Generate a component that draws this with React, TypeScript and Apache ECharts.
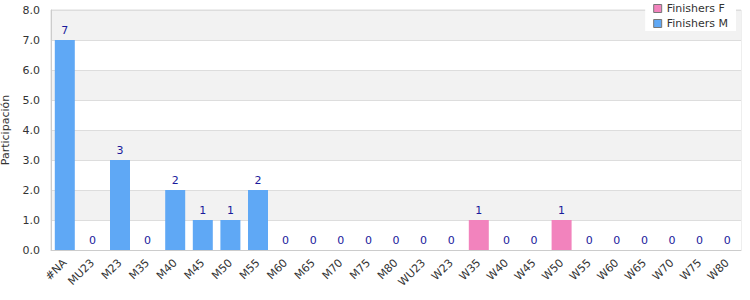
import React, { useEffect, useRef } from "react";
import * as echarts from "echarts";

const categories = ["#NA","MU23","M23","M35","M40","M45","M50","M55","M60","M65","M70","M75","M80","WU23","W23","W35","W40","W45","W50","W55","W60","W65","W70","W75","W80"];
const finishersF = [0,0,0,0,0,0,0,0,0,0,0,0,0,0,0,1,0,0,1,0,0,0,0,0,0];
const finishersM = [7,0,3,0,2,1,1,2,0,0,0,0,0,0,0,0,0,0,0,0,0,0,0,0,0];
const yTicks = { min: 0, max: 8, interval: 1 };

export default function App() {
  const ref = useRef<HTMLDivElement>(null);
  useEffect(() => {
    const chart = echarts.init(ref.current!, null, { renderer: "svg" });
    const font = "DejaVu Sans";
    chart.setOption({
      animation: false,
      textStyle: { fontFamily: font },
      grid: { left: 51, right: 9, top: 10, bottom: 50, containLabel: false, outerBoundsMode: "none", show: true, borderColor: "#dddddd", borderWidth: 1, backgroundColor: "transparent" },
      legend: {
        orient: "vertical",
        right: 14,
        top: 1,
        backgroundColor: "#ffffff",
        padding: [2, 8, 2, 8],
        itemGap: 4,
        itemWidth: 8,
        itemHeight: 8,
        icon: "rect",
        itemStyle: { borderColor: "#777777", borderWidth: 1 },
        textStyle: { fontFamily: font, fontSize: 11, color: "#333" },
        data: ["Finishers F", "Finishers M"],
      },
      xAxis: {
        type: "category",
        data: categories,
        axisLine: { lineStyle: { color: "#cccccc" } },
        axisTick: { show: false },
        axisLabel: { rotate: 45, interval: 0, margin: 11, fontSize: 11, color: "#333", fontFamily: font },
      },
      yAxis: {
        type: "value",
        min: yTicks.min,
        max: yTicks.max,
        interval: yTicks.interval,
        name: "Participación",
        nameLocation: "middle",
        nameGap: 40,
        nameTextStyle: { fontSize: 11, color: "#333", fontFamily: font },
        axisLine: { show: true, lineStyle: { color: "#cccccc" } },
        axisTick: { show: false },
        axisLabel: { margin: 11, fontSize: 11, color: "#333", fontFamily: font, formatter: (v: number) => v.toFixed(1) },
        splitLine: { lineStyle: { color: "#dddddd" } },
        splitArea: { show: true, areaStyle: { color: ["#ffffff", "#f2f2f2"] } },
      },
      series: [
        {
          name: "Finishers F",
          type: "bar",
          stack: "t",
          data: finishersF,
          barWidth: 20,
          itemStyle: { color: "#f283bd" },
        },
        {
          name: "Finishers M",
          type: "bar",
          stack: "t",
          data: finishersM,
          barWidth: 20,
          itemStyle: { color: "#5fa8f5" },
          label: {
            show: true,
            position: "top",
            distance: 4,
            color: "#1a1a9c",
            fontSize: 11,
            fontFamily: font,
            formatter: (p: any) => String(finishersF[p.dataIndex] + finishersM[p.dataIndex]),
          },
        },
      ],
    });
    return () => chart.dispose();
  }, []);
  return <div ref={ref} style={{ width: 750, height: 300, position: "absolute", left: 0, top: 0 }} />;
}
